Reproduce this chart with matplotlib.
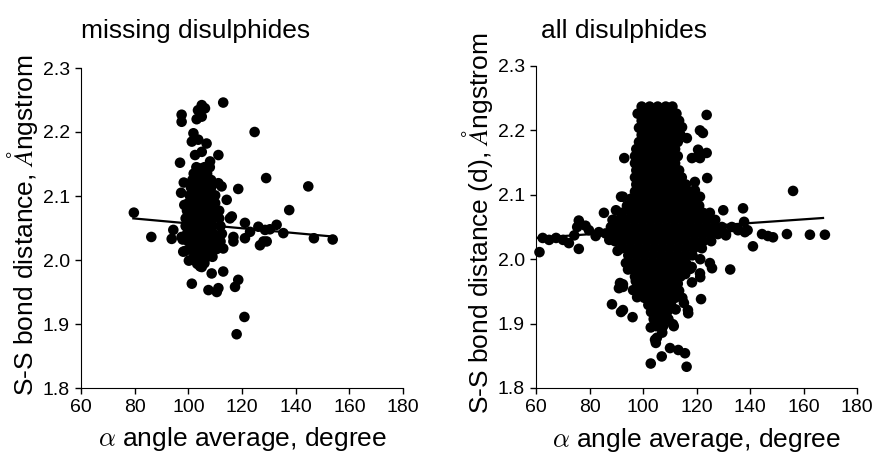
import matplotlib
matplotlib.use('Agg')
import matplotlib.pyplot as plt

plt.rcParams['font.family'] = ['Liberation Sans', 'DejaVu Sans']
plt.rcParams['mathtext.fontset'] = 'cm'

# ---- missing disulphides (left panel) ----
left_out_x = [79.7, 86.2, 93.8, 94.4, 97.5, 97.5, 96.9, 97.3, 98.3, 98.5, 97.9, 98.8,
              101.3, 101.9, 101.3, 103.7, 106.8, 102.5, 105.0, 111.2,
              103.6, 106.2, 105.0, 103.1, 105.0, 113.0,
              108.1, 104.4, 111.2, 112.4, 114.3, 115.5, 118.6,
              124.7, 129.0, 144.7, 137.6, 132.9, 135.4, 146.8, 153.8,
              121.1, 126.1, 128.6, 130.4, 128.0, 126.7, 129.2, 121.1, 116.8, 116.8, 123.0, 116.2, 113.0,
              108.7, 113.0, 107.5, 111.2, 110.6, 118.6, 117.4, 120.9, 118.0, 104.4, 105.0, 103.3, 100.2, 98.1, 97.5]
left_out_y = [2.074, 2.036, 2.033, 2.047, 2.227, 2.216, 2.152, 2.105, 2.121, 2.086, 2.032, 2.014,
              1.963, 2.198, 2.185, 2.188, 2.182, 2.164, 2.169, 2.164,
              2.234, 2.237, 2.242, 2.220, 2.224, 2.246,
              2.154, 2.143, 2.120, 2.115, 2.094, 2.065, 2.111,
              2.200, 2.128, 2.115, 2.078, 2.055, 2.042, 2.034, 2.032,
              2.058, 2.052, 2.047, 2.048, 2.029, 2.023, 2.029, 2.034, 2.036, 2.029, 2.044, 2.068, 2.018,
              1.979, 1.982, 1.953, 1.956, 1.950, 1.969, 1.958, 1.911, 1.884, 1.990, 1.989, 1.994, 1.999, 2.013, 2.036]

# dense core, read row by row (y value, x values in that row)
left_core_y = [2.145, 2.135, 2.125, 2.113, 2.101, 2.089, 2.077, 2.065, 2.053, 2.041, 2.029, 2.017, 2.005, 1.995]
left_core_x = [[103, 106, 108],
               [102, 104.5, 107],
               [101.5, 104, 106.5, 108.5],
               [101, 103.5, 106, 108.5],
               [100.5, 103, 105.5, 108, 110],
               [100, 102.5, 105, 107.5, 110],
               [99.5, 102, 104.5, 107, 109.5, 111.5],
               [99, 101.5, 104, 106.5, 109, 111.5],
               [99, 101.5, 104, 106.5, 109, 112],
               [99.5, 102, 104.5, 107, 109.5, 112.5],
               [100, 102.5, 105, 107.5, 110, 112],
               [101, 103.5, 106, 108.5, 110.5],
               [102, 104.5, 107, 109],
               [103.5, 106]]

left_fit_x = [79.5, 153.0]
left_fit_y = [2.065, 2.037]

# ---- all disulphides (right panel) ----
right_out_x = [61.3, 62.5, 64.9, 67.5, 70.1, 72.3, 74.3, 76.0, 76.0, 75.4, 78.5, 79.8, 82.3, 83.5, 85.4, 86.0,
               89.9, 91.8, 88.6, 87.4, 90.5,
               88.4, 91.8, 96.1, 91.0, 92.5, 93.6, 92.5, 96.3, 94.4, 97.3, 98.6, 91.4, 97.8, 92.5,
               93.0, 92.5, 91.8, 97.1,
               102.9, 107.0, 110.1, 113.2, 115.7, 116.3, 104.5, 104.8, 102.9, 107.2, 111.5, 112.2, 116.9,
               114.7, 115.3, 121.7, 105.2, 107.1, 111.2, 116.8,
               118.3, 121.4, 121.4, 125.8, 132.6, 117.7, 115.8, 118.2, 121.3, 125.0, 141.1,
               123.8, 121.3, 122.4, 113.1, 114.6, 116.4, 118.3, 121.3, 120.6, 124.0, 119.4, 121.3, 119.4,
               123.8, 120.4,
               130.0, 137.4, 137.8, 139.1, 135.4, 138.1, 144.5, 146.7, 148.6, 153.8, 156.1, 162.4, 168.0,
               131.0, 129.0, 135.5, 133.2]
right_out_y = [2.011, 2.033, 2.030, 2.033, 2.030, 2.025, 2.037, 2.016, 2.060, 2.050, 2.052, 2.045, 2.036, 2.042,
               2.072, 2.040, 2.076, 2.097, 2.061, 2.030, 2.013,
               1.930, 1.918, 1.910, 1.955, 1.961, 1.994, 1.957, 1.952, 1.984, 1.966, 1.943, 1.963, 1.941, 1.921,
               2.157, 2.097, 2.071, 2.097,
               1.838, 1.849, 1.862, 1.859, 1.854, 1.833, 1.875, 1.870, 1.894, 1.886, 1.896, 1.922, 1.916,
               1.940, 1.932, 1.938, 1.878, 1.893, 1.899, 1.921,
               1.964, 1.972, 2.000, 1.986, 1.984, 1.985, 1.977, 1.988, 1.978, 1.994, 2.020,
               2.224, 2.200, 2.196, 2.213, 2.205, 2.188, 2.157, 2.157, 2.170, 2.126, 2.120, 2.097, 2.107,
               2.165, 2.159,
               2.076, 2.079, 2.058, 2.045, 2.048, 2.042, 2.039, 2.036, 2.034, 2.039, 2.106, 2.038, 2.038,
               2.037, 2.045, 2.045, 2.050]

right_core_y = [2.237, 2.226, 2.215, 2.204, 2.193, 2.182, 2.171, 2.160, 2.149, 2.138, 2.127, 2.116,
                2.105, 2.094, 2.083, 2.072, 2.061, 2.050, 2.039, 2.028, 2.017, 2.006, 1.995, 1.984,
                1.973, 1.962, 1.951, 1.940, 1.929, 1.918, 1.907, 1.896]
right_core_x = [[99.5, 102.5, 105.5, 108.5, 111],
                [98, 101, 104, 107, 110, 112.5],
                [99.5, 102.5, 105.5, 108.5, 111.5, 113.5],
                [98.5, 101, 104, 107, 110, 113],
                [99.5, 102.5, 105.5, 108.5, 111.5, 114],
                [98.5, 101, 104, 107, 110, 113],
                [97.5, 100, 103, 106, 109, 112],
                [97, 98.5, 101.5, 104.5, 107.5, 110.5, 113],
                [97, 100, 103, 106, 109, 112],
                [97.5, 98.5, 101.5, 104.5, 107.5, 110.5, 113.5],
                [97, 100, 103, 106, 109, 112, 114.5],
                [97.5, 98.5, 101.5, 104.5, 107.5, 110.5, 113.5, 116],
                [97, 100, 103, 106, 109, 112, 115, 117.5],
                [95.5, 98.5, 101.5, 104.5, 107.5, 110.5, 113.5, 116.5, 119],
                [94, 97, 100, 103, 106, 109, 112, 115, 118, 121],
                [92, 95.5, 98.5, 101.5, 104.5, 107.5, 110.5, 113.5, 116.5, 119.5, 122.5, 125],
                [89, 91.5, 94, 97, 100, 103, 106, 109, 112, 115, 118, 121, 124, 127],
                [88, 90.5, 93.5, 96.5, 99.5, 102.5, 105.5, 108.5, 111.5, 114.5, 117.5, 120.5, 123.5, 126.5, 129.5],
                [87, 89, 92, 95, 98, 101, 104, 107, 110, 113, 116, 119, 122, 125, 128, 131],
                [89.5, 92.5, 95.5, 98.5, 101.5, 104.5, 107.5, 110.5, 113.5, 116.5, 119.5, 122.5, 125.5],
                [92, 95, 98, 101, 104, 107, 110, 113, 116, 119, 122],
                [94.5, 97.5, 100.5, 103.5, 106.5, 109.5, 112.5, 115.5, 118.5],
                [95, 98, 101, 104, 107, 110, 113, 116],
                [96.5, 99.5, 102.5, 105.5, 108.5, 111.5, 114.5],
                [97, 100, 103, 106, 109, 112, 114],
                [98.5, 101.5, 104.5, 107.5, 110.5, 113],
                [99, 102, 105, 108, 111, 113.5],
                [100.5, 103.5, 106.5, 109.5, 112],
                [102, 105, 108, 110.5],
                [103, 106, 109],
                [104, 107, 109.5],
                [105, 107.5]]

right_fit_x = [60.0, 167.3]
right_fit_y = [2.033, 2.064]

x_ticks = [60, 80, 100, 120, 140, 160, 180]
y_ticks = [1.8, 1.9, 2.0, 2.1, 2.2, 2.3]


def expand(core_y, core_x):
    xs, ys = [], []
    for y, row in zip(core_y, core_x):
        for x in row:
            xs.append(x)
            ys.append(y)
    return xs, ys


def draw_panel(ax, out_x, out_y, core_y, core_x, fit_x, fit_y, title, ylabel, title_pos):
    cx, cy = expand(core_y, core_x)
    ax.scatter(cx + out_x, cy + out_y, s=58, c='black', edgecolors='none', clip_on=False, zorder=3)
    ax.plot(fit_x, fit_y, color='black', linewidth=1.6, zorder=4)
    ax.set_xlim(60, 180)
    ax.set_ylim(1.8, 2.3)
    ax.set_xticks(x_ticks)
    ax.set_yticks(y_ticks)
    ax.set_yticklabels([f'{v:.1f}' for v in y_ticks])
    ax.spines['top'].set_visible(False)
    ax.spines['right'].set_visible(False)
    ax.tick_params(direction='out', length=4, width=1, labelsize=14, pad=4)
    ax.set_xlabel(r'$\alpha$ angle average, degree', fontsize=19, va='baseline')
    ax.xaxis.set_label_coords(0.5, -0.182)
    ax.set_ylabel(ylabel, fontsize=19, va='center')
    ax.yaxis.set_label_coords(-0.182, 0.51)
    ax.text(title_pos[0], title_pos[1], title, transform=ax.transAxes, fontsize=19,
            ha='left', va='baseline')


fig = plt.figure(figsize=(8.76, 4.54), dpi=100)
ax1 = fig.add_axes([81 / 876, 66 / 454, 322 / 876, 320 / 454])
ax2 = fig.add_axes([536 / 876, 66 / 454, 321 / 876, 322 / 454])

draw_panel(ax1, left_out_x, left_out_y, left_core_y, left_core_x, left_fit_x, left_fit_y,
           'missing disulphides', r'S-S bond distance, $\AA$ngstrom', (0.0, 1.095))
draw_panel(ax2, right_out_x, right_out_y, right_core_y, right_core_x, right_fit_x, right_fit_y,
           'all disulphides', r'S-S bond distance (d), $\AA$ngstrom', (0.015, 1.087))

fig.savefig('out.png', dpi=100)
